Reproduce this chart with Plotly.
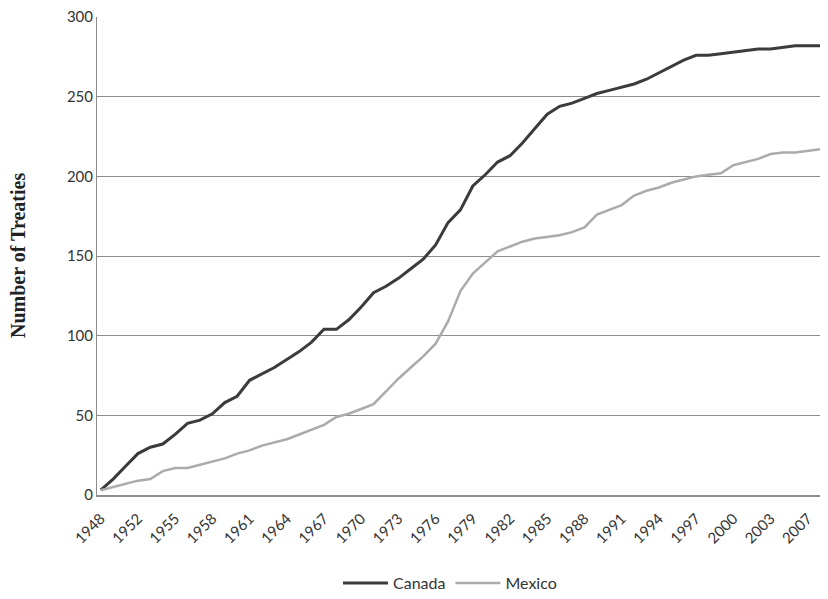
import plotly.graph_objects as go

years = [1948, 1949, 1951, 1952, 1953, 1954, 1955, 1956, 1957, 1958, 1959, 1960,
         1961, 1962, 1963, 1964, 1965, 1966, 1967, 1968, 1969, 1970, 1971, 1972,
         1973, 1974, 1975, 1976, 1977, 1978, 1979, 1980, 1981, 1982, 1983, 1984,
         1985, 1986, 1987, 1988, 1989, 1990, 1991, 1992, 1993, 1994, 1995, 1996,
         1997, 1998, 1999, 2000, 2001, 2002, 2003, 2004, 2006, 2007, 2008]

canada = [3, 10, 18, 26, 30, 32, 38, 45, 47, 51, 58, 62,
          72, 76, 80, 85, 90, 96, 104, 104, 110, 118, 127, 131,
          136, 142, 148, 157, 171, 179, 194, 201, 209, 213, 221, 230,
          239, 244, 246, 249, 252, 254, 256, 258, 261, 265, 269, 273,
          276, 276, 277, 278, 279, 280, 280, 281, 282, 282, 282]

mexico = [3, 5, 7, 9, 10, 15, 17, 17, 19, 21, 23, 26,
          28, 31, 33, 35, 38, 41, 44, 49, 51, 54, 57, 65,
          73, 80, 87, 95, 109, 128, 139, 146, 153, 156, 159, 161,
          162, 163, 165, 168, 176, 179, 182, 188, 191, 193, 196, 198,
          200, 201, 202, 207, 209, 211, 214, 215, 215, 216, 217]

cats = [str(y) for y in years]
tick_labels = [cats[i] for i in range(0, len(cats), 3)]

fig = go.Figure()
fig.add_trace(go.Scatter(x=cats, y=canada, mode="lines", name="Canada",
                         line=dict(color="#3b3b3b", width=3)))
fig.add_trace(go.Scatter(x=cats, y=mexico, mode="lines", name="Mexico",
                         line=dict(color="#ababab", width=2.5)))

W, H = 820, 591
fig.update_layout(
    width=W, height=H,
    margin=dict(l=89, r=6, t=9, b=104, autoexpand=False),
    paper_bgcolor="white", plot_bgcolor="white",
    font=dict(family="Lato, 'Open Sans', sans-serif", size=15, color="#333333"),
    showlegend=True,
    legend=dict(orientation="h", xref="container", yref="container",
                x=(450 - 8) / W, xanchor="center", y=1 - (583 - 8) / H, yanchor="middle",
                font=dict(size=16, color="#333333"), itemwidth=45),
    xaxis=dict(type="category", range=[-0.3, 58.15], tickmode="array",
               tickvals=tick_labels, ticktext=tick_labels, tickangle=-45,
               showgrid=False, showline=True, linecolor="#8c8c8c", linewidth=2,
               ticks="", automargin=False, ticklabelstandoff=7,
               ticklabeloverflow="allow",
               tickfont=dict(size=15, color="#333333")),
    yaxis=dict(range=[0, 300.05], tickmode="array", tickvals=[0, 50, 100, 150, 200, 250, 300],
               showgrid=True, gridcolor="#8c8c8c", gridwidth=1,
               showline=True, linecolor="#8c8c8c", linewidth=1, ticks="",
               zeroline=False, automargin=False, ticklabeloverflow="allow",
               tickfont=dict(size=15, color="#333333")),
    annotations=[dict(text="<b>Number of Treaties</b>", xref="paper", yref="paper",
                      x=(18 - 97) / 725, y=0.5, xanchor="center", yanchor="middle",
                      textangle=-90, showarrow=False,
                      font=dict(family="'Liberation Serif', 'Times New Roman', serif",
                                size=20, color="#222222"))],
)

fig.write_html("out.html")
